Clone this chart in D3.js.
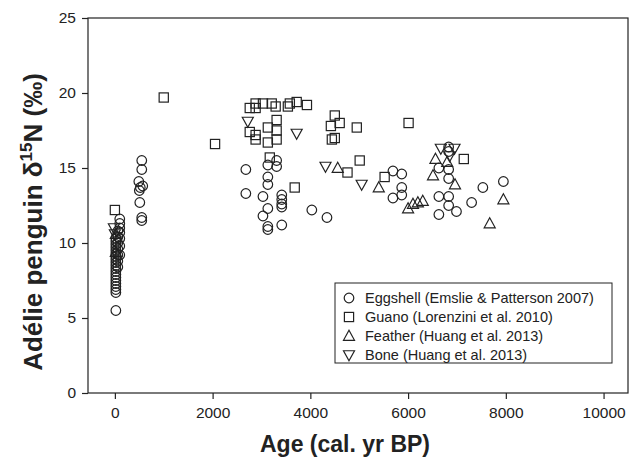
<!DOCTYPE html>
<html>
<head>
<meta charset="utf-8">
<script src="https://cdn.jsdelivr.net/npm/d3@7"></script>
<style>
  body { margin: 0; background: #fff; }
  text { font-family: "Liberation Sans", Arial, sans-serif; }
</style>
</head>
<body>
<div id="chart"></div>
<script>
// Eggshell (Emslie & Patterson 2007)
const eggAge = [20, 20, 20, 20, 20, 20, 20, 20, 20, 20, 20, 20, 20, 20, 20, 20, 20, 20, 20, 20,
  60, 60, 60, 60, 60, 60, 60, 100, 100, 100, 100, 100, 100, 100,
  490, 500, 510, 520, 550, 550, 570, 550, 550,
  2680, 2680, 3030, 3030, 3130, 3130, 3130, 3130, 3130, 3130, 3310, 3310, 3415, 3415, 3415, 3415, 3415, 4030, 4340,
  5690, 5870, 5870, 5690, 5870, 6630, 6830, 6830, 6830, 6830, 6630, 6830, 6830, 6630, 6990, 7300, 7530, 7950];
const eggVal = [5.5, 6.7, 6.9, 7.1, 7.3, 7.5, 7.7, 7.9, 8.1, 8.3, 8.5, 8.7, 8.9, 9.1, 9.3, 9.5, 9.7, 9.9, 10.1, 10.3,
  8.4, 8.8, 9.2, 9.6, 10.0, 10.4, 10.8, 9.2, 9.8, 10.3, 10.7, 11.0, 11.3, 11.6,
  14.1, 13.5, 12.7, 13.7, 15.5, 14.9, 13.8, 11.7, 11.5,
  14.9, 13.3, 13.1, 11.8, 15.2, 14.4, 13.9, 12.3, 11.1, 10.9, 15.5, 15.1, 13.2, 12.9, 12.6, 12.4, 11.2, 12.2, 11.7,
  14.8, 14.6, 13.7, 13.0, 13.2, 15.0, 16.4, 16.1, 14.9, 14.3, 13.1, 13.1, 12.5, 11.9, 12.1, 12.7, 13.7, 14.1];

// Guano (Lorenzini et al. 2010)
const guanoAge = [0, 1000, 2050,
  2760, 2880, 2880, 3030, 3210, 3290, 3540, 3580, 3720, 3930,
  2760, 2880, 2880, 3130, 3310, 3310, 3130, 3310,
  4500, 4600, 4420, 4950, 4440, 4500,
  3170, 3680, 5010, 4760, 5520, 6010, 7140];
const guanoVal = [12.2, 19.7, 16.6,
  19.0, 19.0, 19.3, 19.3, 19.3, 19.1, 19.1, 19.3, 19.4, 19.2,
  17.4, 17.2, 16.9, 17.7, 18.2, 17.5, 16.7, 16.9,
  18.5, 18.0, 17.8, 17.7, 16.9, 17.0,
  15.7, 13.7, 15.5, 14.7, 14.4, 18.0, 15.6];

// Feather (Huang et al. 2013)
const featherAge = [20, 20, 4560, 5400, 6000, 6100, 6200, 6300, 6560, 6510, 6800, 6960, 7950, 7670];
const featherVal = [10.6, 9.4, 15.0, 13.7, 12.3, 12.6, 12.7, 12.8, 15.6, 14.5, 15.4, 13.9, 12.9, 11.3];

// Bone (Huang et al. 2013)
const boneAge = [-20, 0, 2720, 3720, 4310, 5050, 6670, 6950, 6850];
const boneVal = [11.0, 10.6, 18.1, 17.3, 15.1, 13.9, 16.3, 16.3, 15.8];

const xTicks = [0, 2000, 4000, 6000, 8000, 10000];
const yTicks = [0, 5, 10, 15, 20, 25];

const width = 637, height = 459;
const plot = { left: 88, right: 628, top: 18, bottom: 393 };
const ink = "#222";

const svg = d3.select("#chart").append("svg")
  .attr("width", width)
  .attr("height", height);

const x = d3.scaleLinear().domain([-550, 10500]).range([plot.left, plot.right]);
const y = d3.scaleLinear().domain([0, 25]).range([plot.bottom, plot.top]);

// Frame
svg.append("rect")
  .attr("x", plot.left).attr("y", plot.top)
  .attr("width", plot.right - plot.left).attr("height", plot.bottom - plot.top)
  .attr("fill", "none").attr("stroke", ink).attr("stroke-width", 1.2);

// Axes
const xAxis = svg.append("g")
  .attr("transform", `translate(0,${plot.bottom})`)
  .call(d3.axisBottom(x).tickValues(xTicks).tickFormat(d3.format("d"))
    .tickSize(6).tickPadding(8).tickSizeOuter(0));
const yAxis = svg.append("g")
  .attr("transform", `translate(${plot.left},0)`)
  .call(d3.axisLeft(y).tickValues(yTicks).tickSize(6).tickPadding(6).tickSizeOuter(0));
[xAxis, yAxis].forEach(g => {
  g.select(".domain").remove();
  g.selectAll("line").attr("stroke", ink).attr("stroke-width", 1.2);
  g.selectAll("text").attr("fill", ink).attr("font-size", 15.5)
    .style("font-family", "'Liberation Sans', Arial, sans-serif");
});

// Axis titles
svg.append("text")
  .attr("x", 345).attr("y", 452)
  .attr("text-anchor", "middle")
  .attr("font-size", 23).attr("font-weight", "bold").attr("fill", ink)
  .text("Age (cal. yr BP)");

const yt = svg.append("text")
  .attr("transform", `translate(42,222) rotate(-90)`)
  .attr("text-anchor", "middle")
  .attr("font-size", 26).attr("font-weight", "bold").attr("fill", ink);
yt.append("tspan").text("Adélie penguin δ");
yt.append("tspan").attr("font-size", 17).attr("dy", -10).text("15");
yt.append("tspan").attr("dy", 10).text("N (‰)");

// Marker shapes
const tri = s => `M0,${-s * 0.6}L${s * 0.58},${s * 0.45}L${-s * 0.58},${s * 0.45}Z`;
const triDown = s => `M0,${s * 0.6}L${s * 0.58},${-s * 0.45}L${-s * 0.58},${-s * 0.45}Z`;
const shapes = {
  circle: g => g.append("circle").attr("r", 4.8),
  square: g => g.append("rect").attr("x", -4.6).attr("y", -4.6).attr("width", 9.2).attr("height", 9.2),
  up: g => g.append("path").attr("d", tri(9.5)),
  down: g => g.append("path").attr("d", triDown(9.5))
};

function drawSeries(ages, vals, shape) {
  const pts = ages.map((a, i) => ({ a, v: vals[i] }));
  svg.append("g").selectAll("g")
    .data(pts)
    .join("g")
    .attr("transform", d => `translate(${x(d.a)},${y(d.v)})`)
    .each(function () { shapes[shape](d3.select(this)); })
    .selectAll("*")
    .attr("fill", "none").attr("stroke", ink).attr("stroke-width", 1.2);
}

drawSeries(guanoAge, guanoVal, "square");
drawSeries(featherAge, featherVal, "up");
drawSeries(boneAge, boneVal, "down");
drawSeries(eggAge, eggVal, "circle");

// Legend
const legendItems = [
  ["circle", "Eggshell (Emslie & Patterson 2007)"],
  ["square", "Guano (Lorenzini et al. 2010)"],
  ["up", "Feather (Huang et al. 2013)"],
  ["down", "Bone (Huang et al. 2013)"]
];
const legend = svg.append("g").attr("transform", "translate(335,283)");
legend.append("rect")
  .attr("width", 277).attr("height", 80)
  .attr("fill", "#fff").attr("stroke", ink).attr("stroke-width", 1);
legendItems.forEach(([shape, label], i) => {
  const row = legend.append("g").attr("transform", `translate(14,${15 + i * 19})`);
  shapes[shape](row).attr("fill", "none").attr("stroke", ink).attr("stroke-width", 1.2);
  row.append("text").attr("x", 16).attr("dy", "0.35em")
    .attr("font-size", 14.5).attr("fill", ink).text(label);
});
</script>
</body>
</html>
